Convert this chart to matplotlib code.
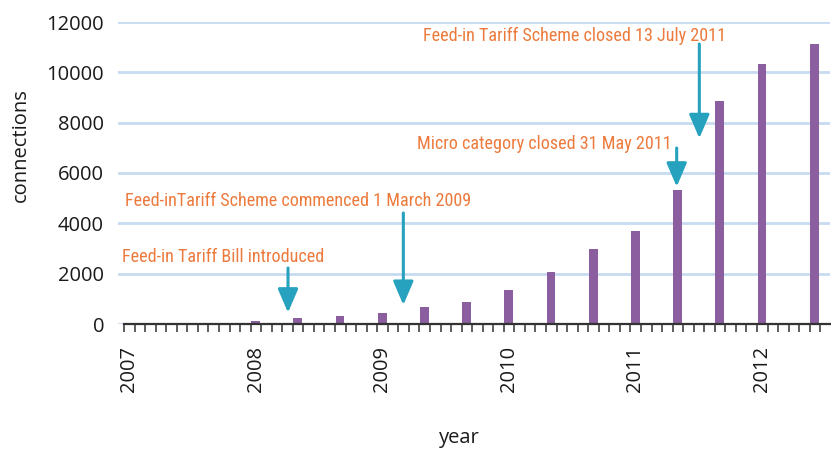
import matplotlib
matplotlib.use("Agg")
import matplotlib.pyplot as plt
from matplotlib import font_manager as fm
from matplotlib.ticker import FixedLocator, NullFormatter

# ---- data ----
bar_years = [2008, 2008, 2008, 2009, 2009, 2009, 2010, 2010, 2010, 2011, 2011, 2011, 2012, 2012]
bar_months = [1, 5, 9, 1, 5, 9, 1, 5, 9, 1, 5, 9, 1, 6]
connections = [120, 250, 330, 440, 670, 880, 1370, 2050, 3000, 3700, 5320, 8860, 10330, 11130]

year_ticks = [2007, 2008, 2009, 2010, 2011, 2012]
y_ticks = [0, 2000, 4000, 6000, 8000, 10000, 12000]

annot_texts = ["Feed-in Tariff Bill introduced",
               "Feed-inTariff Scheme commenced 1 March 2009",
               "Micro category closed 31 May 2011",
               "Feed-in Tariff Scheme closed 13 July 2011"]
annot_dates = [2008.256, 2009.167, 2011.326, 2011.505]

x_vals = [y + (m - 1) / 12 for y, m in zip(bar_years, bar_months)]

# ---- styling ----
W, H = 831, 450
PURPLE = "#8B5E9F"
TEAL = "#26A2BE"
ORANGE = "#EC7A3C"
GRID = "#C6DAF0"
LABEL_FONT = ["Open Sans", "DejaVu Sans"]


def find_condensed_font():
    prefs = ["liberation sans narrow", "open sans condensed", "roboto condensed",
             "noto sans condensed", "dejavu sans condensed", "noto sans semicondensed",
             "open sans semicondensed"]
    found = []
    for f in fm.fontManager.ttflist:
        key = (f.name + " " + f.fname.split("/")[-1]).lower().replace("-", " ")
        is_cond = ("narrow" in key or "condensed" in key
                   or str(f.stretch) in ("condensed", "semi-condensed", "extra-condensed"))
        if not is_cond:
            continue
        if f.style != "normal" or f.weight not in (400, "normal", "regular", "book"):
            continue
        if "extra" in key or "ultra" in key or "bold" in key or "light" in key:
            continue
        rank = len(prefs)
        for i, p in enumerate(prefs):
            if p in key or p.replace(" ", "") in key.replace(" ", ""):
                rank = i
                break
        found.append((rank, f.fname))
    if found:
        found.sort()
        return fm.FontProperties(fname=found[0][1])
    return fm.FontProperties(family="DejaVu Sans")


note_fp = find_condensed_font()

fig = plt.figure(figsize=(W / 100, H / 100), dpi=100)
ax = fig.add_axes([118 / W, 1 - 324 / H, (830 - 118) / W, (324 - 22) / H])


def px_to_year(px):
    return 2007 + (px - 129) / 126.6


ax.set_xlim(px_to_year(118), px_to_year(830))
ax.set_ylim(0, 12000)

ax.bar(x_vals, connections, width=0.071, color=PURPLE, zorder=3)

# grid
ax.set_yticks(y_ticks)
ax.yaxis.grid(True, color=GRID, linewidth=2.0, zorder=0)
ax.set_axisbelow(True)
ax.tick_params(axis="y", length=0, pad=10, labelsize=14.5)
for lab in ax.get_yticklabels():
    lab.set_family(LABEL_FONT)
    lab.set_color("#1a1a1a")

# x axis
ax.set_xticks(year_ticks)
ax.set_xticklabels([str(y) for y in year_ticks], rotation=90, family=LABEL_FONT,
                   fontsize=14.5, color="#1a1a1a")
ax.tick_params(axis="x", which="major", length=0, pad=16)
month_ticks = [px_to_year(124) + k / 12 for k in range(67)]
ax.xaxis.set_minor_locator(FixedLocator(month_ticks))
ax.xaxis.set_minor_formatter(NullFormatter())
ax.tick_params(axis="x", which="minor", length=6, width=1.1, color="#333333", direction="out")

for s in ["top", "right", "left"]:
    ax.spines[s].set_visible(False)
ax.spines["bottom"].set_color("#333333")
ax.spines["bottom"].set_linewidth(1.6)
ax.spines["bottom"].set_bounds(px_to_year(124), px_to_year(830))
ax.spines["bottom"].set_zorder(4)

# axis labels
fig.text(21 / W, 1 - 145 / H, "connections", rotation=90, ha="center", va="center",
         family=LABEL_FONT, fontsize=14.5, color="#1a1a1a")
fig.text(459 / W, 1 - 438 / H, "year", ha="center", va="center",
         family=LABEL_FONT, fontsize=14.5, color="#1a1a1a")

# annotations: text positions (px) and arrow start/tip (data)
text_px = [(122, 261.7), (125, 205.7), (417, 149), (423, 41)]
arrow_start = [2225, 4410, 6993, 11126]
arrow_tip = [450, 755, 5455, 7379]

# fit the annotation font size so the longest-top note spans ~305 px (as in reference)
renderer = fig.canvas.get_renderer()
probe = fig.text(0, 0, annot_texts[3], fontproperties=note_fp, fontsize=15)
w15 = probe.get_window_extent(renderer).width
probe.remove()
note_size = min(15.5, 15 * 305.0 / w15)

for txt, (tx, ty) in zip(annot_texts, text_px):
    fig.text(tx / W, 1 - ty / H, txt, ha="left", va="baseline",
             fontproperties=note_fp, fontsize=note_size, color=ORANGE)

for xd, y0, y1 in zip(annot_dates, arrow_start, arrow_tip):
    ax.annotate("", xy=(xd, y1), xytext=(xd, y0),
                arrowprops=dict(arrowstyle="-|>,head_length=1.45,head_width=0.62",
                                mutation_scale=10, color=TEAL, lw=2.2,
                                shrinkA=0, shrinkB=0),
                zorder=5)

fig.savefig("out.png", dpi=100)
